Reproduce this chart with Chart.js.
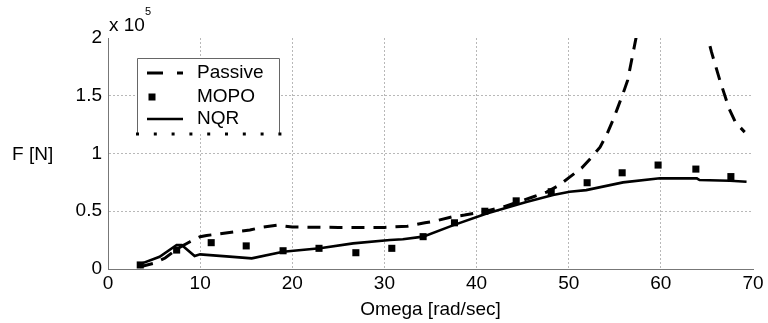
<!DOCTYPE html>
<html>
<head>
<meta charset="utf-8">
<script src="https://cdn.jsdelivr.net/npm/chart.js@4.4.1/dist/chart.umd.min.js"></script>
<style>
    html, body { margin: 0; padding: 0; background: #fff; }
</style>
</head>
<body>
<canvas id="myChart" width="768" height="323"></canvas>
<script>
// force values are in units of 1e5 N (axis shows "x 10^5")
const passiveOmega = [3.5, 5.0, 6.2, 7.6, 8.9, 10.0, 10.7, 13.6, 15.4, 16.8, 18.4, 20.0, 25.0, 30.0, 32.5, 34.4, 35.5, 37.3, 38.7, 41.0, 43.0, 46.1, 47.6, 49.0, 50.1, 51.4, 52.5, 53.4, 54.1, 54.8, 55.3, 55.9, 56.4, 57.0, 61.0, 65.1, 65.5, 66.4, 67.4, 68.1, 69.1]
const passiveF = [0.02, 0.05, 0.095, 0.18, 0.236, 0.28, 0.29, 0.32, 0.337, 0.363, 0.38, 0.363, 0.36, 0.36, 0.37, 0.40, 0.415, 0.45, 0.467, 0.50, 0.54, 0.623, 0.666, 0.727, 0.796, 0.874, 0.969, 1.055, 1.159, 1.289, 1.393, 1.52, 1.635, 1.877, 3.5, 2.0, 1.877, 1.635, 1.39, 1.27, 1.185]

const mopoOmega = [3.5, 7.45, 11.2, 15.0, 19.0, 22.9, 26.9, 30.8, 34.2, 37.6, 40.9, 44.3, 48.1, 52.0, 55.8, 59.7, 63.8, 67.6]
const mopoF = [0.035, 0.164, 0.228, 0.2, 0.158, 0.179, 0.141, 0.179, 0.28, 0.40, 0.50, 0.59, 0.669, 0.747, 0.833, 0.90, 0.865, 0.80]

const nqrOmega = [3.4, 5.6, 7.45, 8.0, 9.4, 10.0, 13.2, 15.6, 19.0, 23.0, 26.6, 30.6, 32.0, 34.2, 37.5, 41.1, 45.4, 48.3, 50.1, 51.9, 55.9, 59.9, 63.9, 64.2, 67.5, 69.3]
const nqrF = [0.04, 0.106, 0.208, 0.208, 0.112, 0.127, 0.107, 0.092, 0.15, 0.179, 0.222, 0.251, 0.257, 0.28, 0.38, 0.48, 0.58, 0.64, 0.669, 0.683, 0.75, 0.785, 0.785, 0.77, 0.764, 0.755]

const xTicksMax = 70
const yTicksMax = 2

const toPoints = (xs, ys) => xs.map((x, i) => ({ x: x, y: ys[i] }))

const font = 'Arial, "Liberation Sans", sans-serif'
const gridColor = '#b8b8b8'

const extraText = {
    id: 'extraText',
    afterDraw(chart) {
        const ctx = chart.ctx
        ctx.save()
        ctx.fillStyle = '#000'
        ctx.textBaseline = 'middle'
        ctx.textAlign = 'left'
        ctx.font = '19px ' + font
        ctx.fillText('F [N]', 12, 155)
        // exponent label
        ctx.textBaseline = 'alphabetic'
        ctx.fillText('x 10', 109, 31)
        ctx.font = '11px ' + font
        ctx.fillText('5', 145, 15)

        // legend box
        const bx = 137, by = 58, bw = 143, bh = 76
        ctx.fillStyle = '#fff'
        ctx.fillRect(bx, by, bw, bh)
        ctx.strokeStyle = '#666'
        ctx.lineWidth = 1
        ctx.beginPath()
        ctx.moveTo(bx + 0.5, by + bh)
        ctx.lineTo(bx + 0.5, by + 0.5)
        ctx.lineTo(bx + bw - 0.5, by + 0.5)
        ctx.lineTo(bx + bw - 0.5, by + bh)
        ctx.stroke()
        ctx.fillStyle = '#000'
        for (let x = bx; x <= bx + bw; x += 17.8) {
            ctx.fillRect(x - 1, by + bh - 1.5, 3, 3)
        }

        ctx.strokeStyle = '#000'
        ctx.lineWidth = 3
        ctx.setLineDash([16, 14])
        ctx.beginPath()
        ctx.moveTo(147, 73)
        ctx.lineTo(183, 73)
        ctx.stroke()
        ctx.setLineDash([])
        ctx.fillRect(148.5, 93.5, 7, 7)
        ctx.lineWidth = 2.5
        ctx.beginPath()
        ctx.moveTo(147, 119)
        ctx.lineTo(183, 119)
        ctx.stroke()

        ctx.font = '19px ' + font
        ctx.textBaseline = 'middle'
        ctx.fillText('Passive', 197, 73)
        ctx.fillText('MOPO', 197, 97)
        ctx.fillText('NQR', 197, 119)
        ctx.restore()
    }
}

const ctx = document.getElementById('myChart')

new Chart(ctx, {
    type: 'scatter',
    data: {
        datasets: [
            {
                label: 'Passive',
                data: toPoints(passiveOmega, passiveF),
                showLine: true,
                borderColor: '#000',
                borderWidth: 3,
                borderDash: [13, 9],
                pointRadius: 0,
                tension: 0
            },
            {
                label: 'MOPO',
                data: toPoints(mopoOmega, mopoF),
                showLine: false,
                pointStyle: 'rect',
                pointRadius: 5,
                backgroundColor: '#000',
                borderWidth: 0
            },
            {
                label: 'NQR',
                data: toPoints(nqrOmega, nqrF),
                showLine: true,
                borderColor: '#000',
                borderWidth: 2.6,
                pointRadius: 0,
                tension: 0
            }
        ]
    },
    options: {
        responsive: false,
        animation: false,
        layout: { padding: { top: 38, right: 15, left: 0, bottom: 0 } },
        plugins: {
            legend: { display: false },
            tooltip: { enabled: false }
        },
        scales: {
            x: {
                type: 'linear',
                min: 0,
                max: xTicksMax,
                ticks: { stepSize: 10, color: '#000', font: { size: 19, family: font }, padding: 3 },
                grid: {
                    drawTicks: false,
                    color: c => (c.tick && c.tick.value === xTicksMax) ? 'rgba(0,0,0,0)' : gridColor
                },
                border: { color: '#777', width: 1, dash: [2, 2] },
                title: {
                    display: true,
                    text: 'Omega [rad/sec]',
                    color: '#000',
                    font: { size: 19, family: font },
                    padding: { top: 0, bottom: 2 }
                },
                afterFit: scale => { scale.height = 54 }
            },
            y: {
                min: 0,
                max: yTicksMax,
                ticks: {
                    stepSize: 0.5,
                    color: '#000',
                    font: { size: 19, family: font },
                    padding: 6,
                    callback: v => String(Math.round(v * 10) / 10)
                },
                grid: {
                    drawTicks: false,
                    color: c => (c.tick && c.tick.value === yTicksMax) ? 'rgba(0,0,0,0)' : gridColor
                },
                border: { color: '#777', width: 1, dash: [2, 2] },
                afterFit: scale => { scale.width = 108 }
            }
        }
    },
    plugins: [extraText]
})
</script>
</body>
</html>
